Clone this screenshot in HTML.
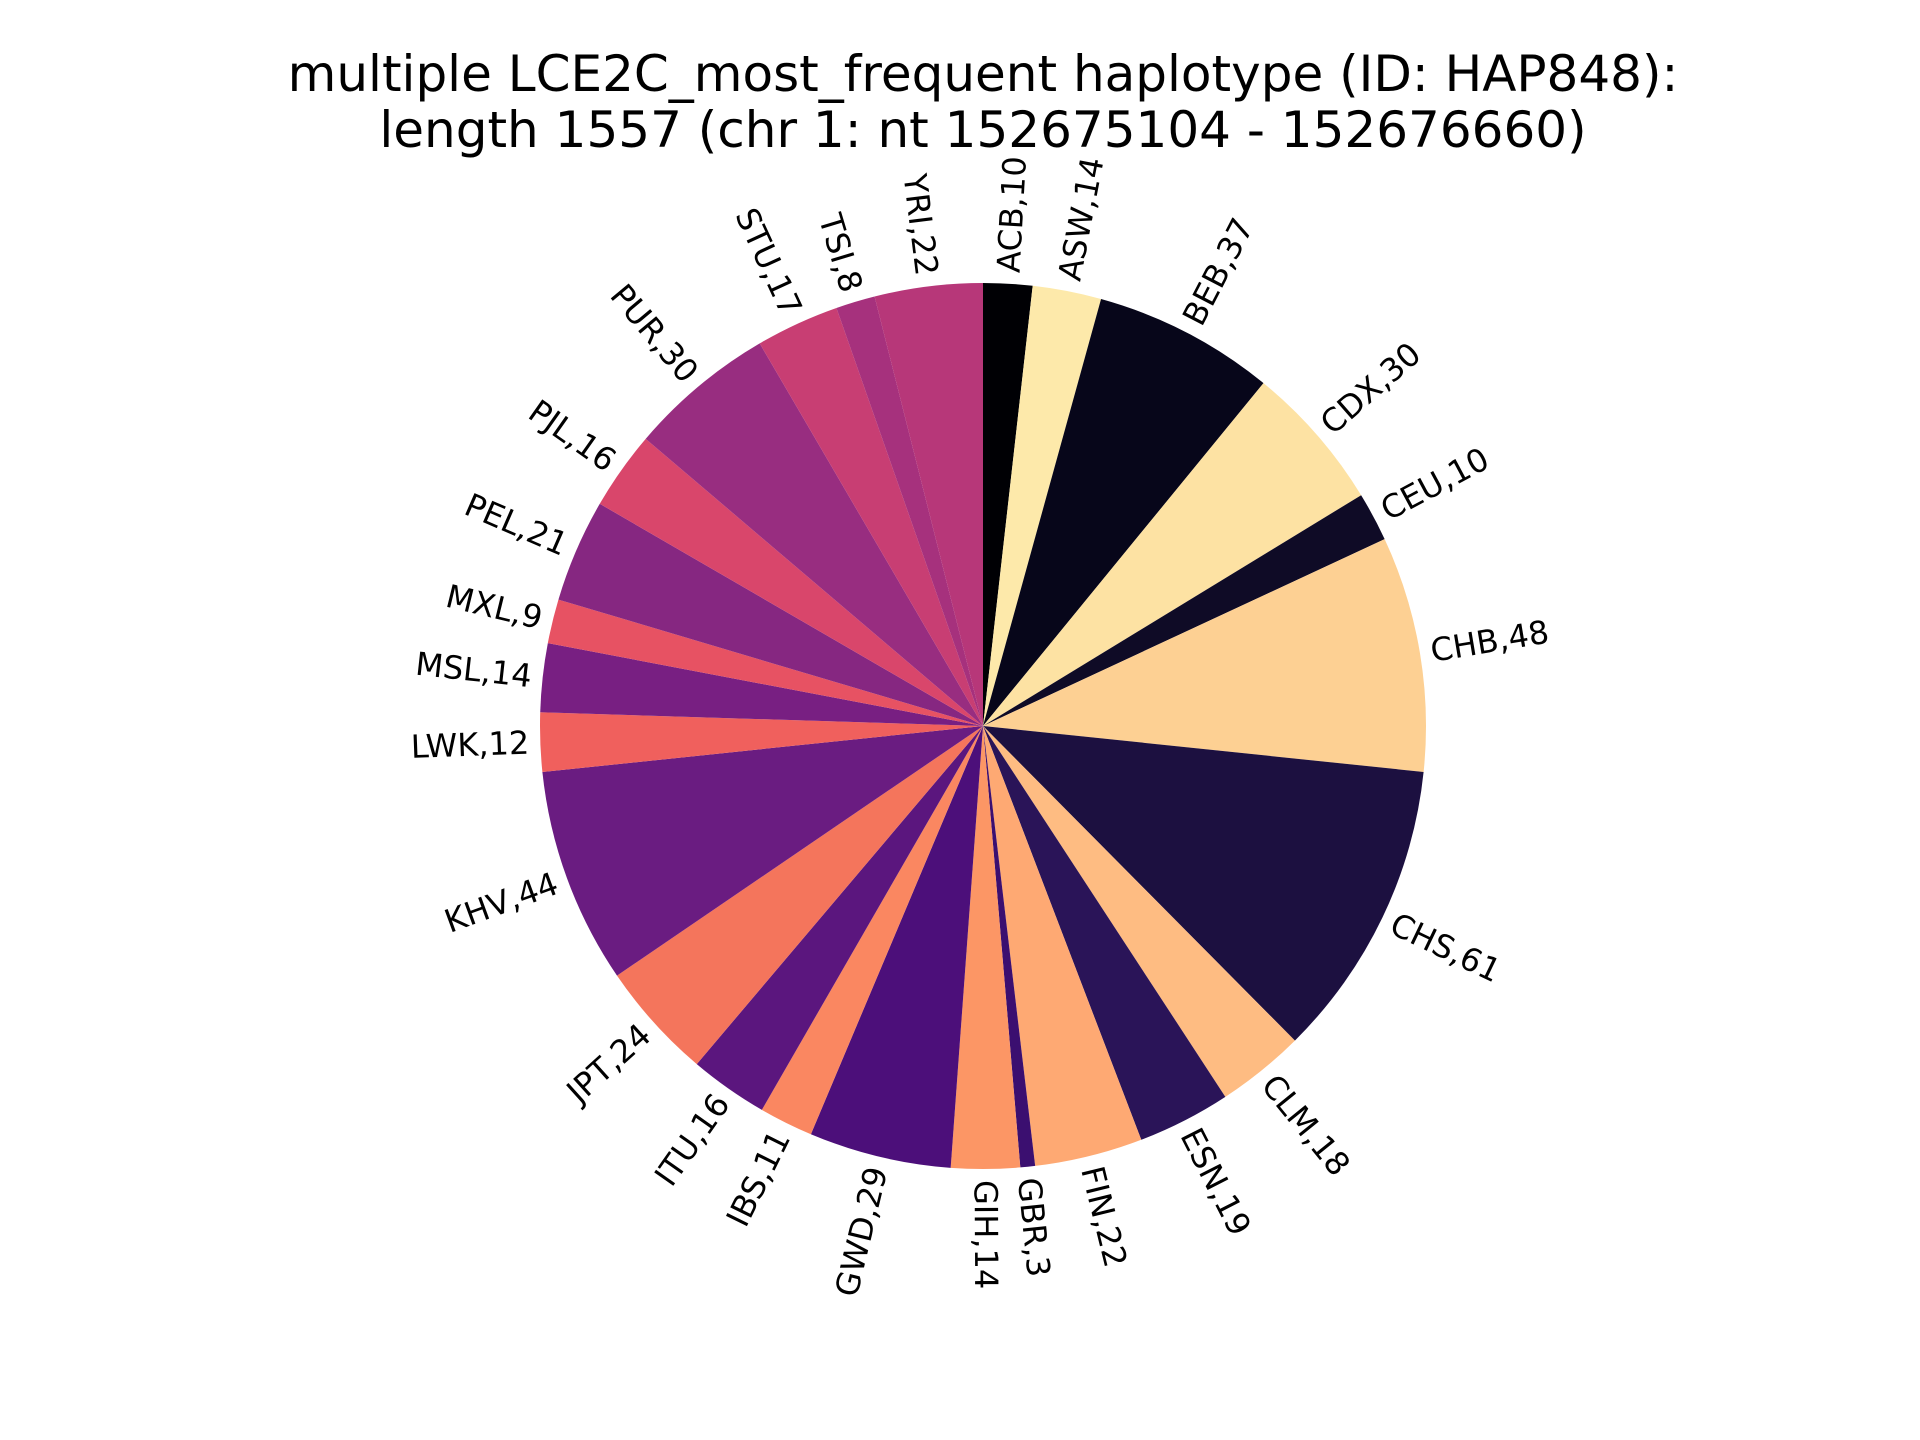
<!DOCTYPE html>
<html><head><meta charset="utf-8">
<style>html,body{margin:0;padding:0;background:#fff}svg{display:block}</style>
</head><body>
<svg id="chart" width="1920" height="1440" viewBox="0 0 1920 1440" xmlns="http://www.w3.org/2000/svg" font-family="DejaVu Sans, Liberation Sans, sans-serif">
<rect width="1920" height="1440" fill="#fff"/>
<text x="983" y="74" font-size="50" text-anchor="middle" dominant-baseline="central">multiple LCE2C_most_frequent haplotype (ID: HAP848):</text>
<text x="983" y="130" font-size="50" text-anchor="middle" dominant-baseline="central">length 1557 (chr 1: nt 152675104 - 152676660)</text>
<g id="slices"></g>
<g id="labels"></g>
</svg>
<script>
const categories = ["ACB","ASW","BEB","CDX","CEU","CHB","CHS","CLM","ESN","FIN","GBR","GIH","GWD","IBS","ITU","JPT","KHV","LWK","MSL","MXL","PEL","PJL","PUR","STU","TSI","YRI"];
const values = [10,14,37,30,10,48,61,18,19,22,3,14,29,11,16,24,44,12,14,9,21,16,30,17,8,22];
const colors = ["#000004","#fde9aa","#07061a","#fde2a3","#0f0b26","#fdd093","#1c1040","#febc82","#2a1458","#fea973","#3b0f70","#fc9665","#4c0f7a","#fa8761","#5b167e","#f4755c","#6a1c81","#f0605d","#781f82","#e75263","#862781","#d9466b","#982d80","#c83e73","#a6317d","#b73779"];
const cx = 983, cy = 726, r = 443;
const NS = "http://www.w3.org/2000/svg";
const total = values.reduce((a,b)=>a+b,0);
const gS = document.getElementById('slices');
const gL = document.getElementById('labels');
function angleOf(cum){ return 90 - cum/total*360; }
function pt(deg, rad){ const a = deg*Math.PI/180; return [cx + rad*Math.cos(a), cy - rad*Math.sin(a)]; }
let cum = 0;
values.forEach((v,i)=>{
  const t1 = angleOf(cum), t2 = angleOf(cum+v);
  const p1 = pt(t1,r), p2 = pt(t2,r);
  const large = (v/total > 0.5) ? 1 : 0;
  const path = document.createElementNS(NS,'path');
  path.setAttribute('d',`M${cx},${cy} L${p1[0]},${p1[1]} A${r},${r} 0 ${large} 1 ${p2[0]},${p2[1]} Z`);
  path.setAttribute('fill',colors[i]);
  
  
  gS.appendChild(path);
  const mid = (t1+t2)/2;
  const lp = pt(mid, r*1.025);
  let m = ((mid % 360) + 360) % 360;
  let rot = (m > 90 && m < 270) ? m - 180 : m;
  const cosv = Math.cos(mid*Math.PI/180);
  const tx = document.createElementNS(NS,'text');
  tx.setAttribute('x',lp[0]); tx.setAttribute('y',lp[1]);
  tx.setAttribute('font-size','32');
  tx.setAttribute('text-anchor', cosv >= 0 ? 'start' : 'end');
  tx.setAttribute('dominant-baseline','central');
  tx.setAttribute('transform',`rotate(${-rot},${lp[0]},${lp[1]})`);
  tx.textContent = categories[i] + ',' + v;
  
  
  gL.appendChild(tx);
  cum += v;
});
</script>
</body></html>
